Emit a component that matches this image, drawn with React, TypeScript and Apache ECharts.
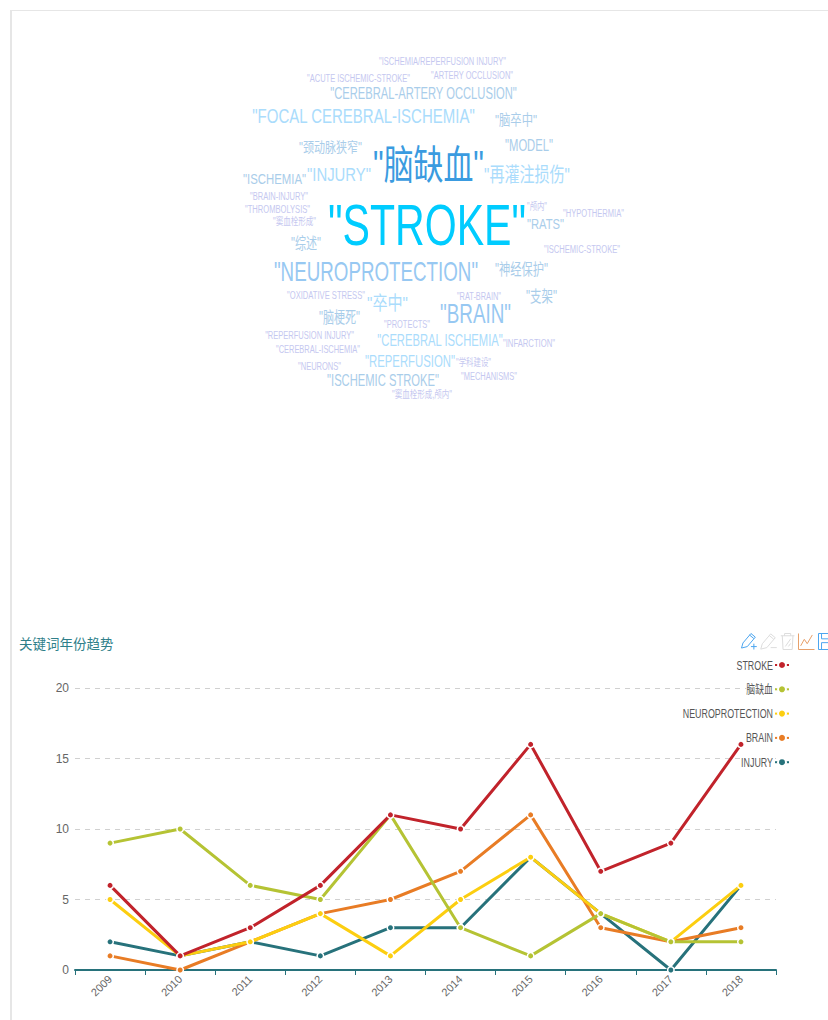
import React, { useEffect, useRef } from "react";
import * as echarts from "echarts";

const years = ["2009", "2010", "2011", "2012", "2013", "2014", "2015", "2016", "2017", "2018"];
const strokeValues = [6, 1, 3, 6, 11, 10, 16, 7, 9, 16];
const naoQueXueValues = [9, 10, 6, 5, 11, 3, 1, 4, 2, 2];
const neuroValues = [5, 1, 2, 4, 1, 5, 8, 4, 2, 6];
const brainValues = [1, 0, 2, 4, 5, 7, 11, 3, 2, 3];
const injuryValues = [2, 1, 2, 1, 3, 3, 8, 4, 0, 6];
const seriesNames = ["STROKE", "脑缺血", "NEUROPROTECTION", "BRAIN", "INJURY"];
const seriesColors = ["#c1232b", "#b5c334", "#fcce10", "#e87c25", "#27727b"];
const yTicks = [0, 5, 10, 15, 20];

const wordTexts = [
  '"ISCHEMIA/REPERFUSION INJURY"', '"ACUTE ISCHEMIC-STROKE"', '"ARTERY OCCLUSION"', '"CEREBRAL-ARTERY OCCLUSION"',
  '"FOCAL CEREBRAL-ISCHEMIA"', '"脑卒中"', '"颈动脉狭窄"', '"MODEL"', '"脑缺血"', '"再灌注损伤"', '"ISCHEMIA"', '"INJURY"',
  '"BRAIN-INJURY"', '"THROMBOLYSIS"', '"窦血栓形成"', '"STROKE"', '"颅内"', '"RATS"', '"HYPOTHERMIA"', '"综述"',
  '"ISCHEMIC-STROKE"', '"NEUROPROTECTION"', '"神经保护"', '"OXIDATIVE STRESS"', '"卒中"', '"RAT-BRAIN"', '"支架"', '"BRAIN"',
  '"脑梗死"', '"PROTECTS"', '"REPERFUSION INJURY"', '"CEREBRAL ISCHEMIA"', '"INFARCTION"', '"CEREBRAL-ISCHEMIA"',
  '"REPERFUSION"', '"学科建设"', '"NEURONS"', '"MECHANISMS"', '"ISCHEMIC STROKE"', '"窦血栓形成,颅内"',
];
const wordWeights = [
  11, 11, 11, 16, 21, 15, 14, 16, 40, 20, 15, 19,
  11, 11, 10, 58, 10, 15, 11, 16,
  11, 27, 16, 11, 19, 11, 16, 27,
  16, 11, 11, 16, 11, 11,
  16, 10, 11, 11, 16, 10,
];
// word-cloud layout (page pixels: centre x, centre y, drawn width)
const wordCenterX = [
  442.5, 358.5, 472, 423.5, 363.5, 516, 330.5, 529, 428.5, 527, 274.5, 339,
  279, 277.5, 294.5, 427, 537, 545.5, 593.5, 306,
  582, 376, 521.5, 326, 387.5, 479, 541.5, 475.5,
  339.5, 407, 309.5, 440, 529, 318,
  410, 473.5, 319.5, 489, 383, 422,
];
const wordCenterY = [
  61, 78, 75, 93, 116, 120, 148, 145, 165, 175, 179, 175,
  196, 209, 222, 225, 207, 224, 213, 244,
  249, 272, 269, 295, 303, 296, 296, 314,
  318, 324, 335, 340, 343, 349,
  361, 363, 366, 376, 380, 395,
];
const wordWidths = [
  127, 103, 82, 187, 223, 42, 63, 48, 111, 86, 63, 64,
  58, 65, 43, 198, 20, 37, 61, 30,
  76, 204, 53, 78, 41, 44, 31, 71,
  41, 46, 89, 126, 52, 84,
  90, 35, 43, 56, 112, 60,
];
const wordTones = [
  0, 0, 0, 2, 3, 2, 2, 2, 5, 3, 2, 3,
  0, 0, 0, 6, 0, 2, 0, 2,
  0, 4, 2, 0, 3, 0, 2, 4,
  2, 0, 0, 3, 0, 0,
  3, 0, 0, 0, 2, 0,
];
const tonePalette = ["#c5c8f0", "#c5c8f0", "#a9cdea", "#aadcfc", "#97c8f2", "#3a9be0", "#00ccff"];

const WORD_FONT = '"Liberation Sans", "Noto Sans CJK SC", sans-serif';

const measureCtx = document.createElement("canvas").getContext("2d") as CanvasRenderingContext2D;
function squeeze(text: string, size: number, target: number) {
  measureCtx.font = `${size}px ${WORD_FONT}`;
  return target / measureCtx.measureText(text).width;
}

const penPlus = "path://M2 22 L4 15 L15 2 L21 7 L10 20 Z M13 4 L19 9 M15 20 H23 M19 16 V24";
const penMinus = "path://M2 22 L4 15 L15 2 L21 7 L10 20 Z M13 4 L19 9 M15 20 H23";
const trash = "path://M3 5 H21 M8 5 V2 H16 V5 M5 5 L6 23 H18 L19 5 M9 19 L16 9 M13 19 L16 15";
const lineIcon = "path://M2 1 V23 H24 M5 18 L10 9 L14 15 L21 3";
const floppy = "path://M2 2 H18 L23 7 V23 H2 Z M6 2 V9 H17 V2 M6 23 V14 H19 V23";

export default function App() {
  const ref = useRef<HTMLDivElement>(null);
  useEffect(() => {
    const chart = echarts.init(ref.current as HTMLDivElement, undefined, { renderer: "svg" });
    const valueSets = [strokeValues, naoQueXueValues, neuroValues, brainValues, injuryValues];
    const noop = () => {};
    const tool = (icon: string, color: string) => ({
      show: true, title: "", icon, onclick: noop,
      iconStyle: { color: "none", borderColor: color, borderWidth: 1 },
    });
    chart.setOption({
      animation: false,
      backgroundColor: "transparent",
      title: {
        text: "关键词年份趋势", left: 14, top: 633,
        textStyle: { color: "#2f7f8a", fontSize: 13.5, fontWeight: "normal", fontFamily: WORD_FONT },
      },
      toolbox: {
        left: 724, top: 616, itemSize: 16, itemGap: -1, showTitle: false,
        feature: {
          myMark: tool(penPlus, "#4da6f0"),
          myUndo: tool(penMinus, "#dddddd"),
          myClear: tool(trash, "#dddddd"),
          myLine: tool(lineIcon, "#e8a06a"),
          mySave: tool(floppy, "#4da6f0"),
        },
      },
      legend: {
        orient: "vertical", right: 205, top: 652, align: "right",
        itemWidth: 14, itemHeight: 10, itemGap: 8.3,
        data: seriesNames,
        formatter: () => " ",
        textStyle: { fontSize: 10, height: 16, lineHeight: 16 },
      },
      graphic: seriesNames.map((name, i) => ({
        type: "text", x: 773, y: 665 + i * 24.3, scaleX: 0.74, z: 5,
        style: {
          text: name, fill: "#555", font: `12px ${WORD_FONT}`,
          align: "right", verticalAlign: "middle", backgroundColor: "#fff",
        },
      })),
      grid: [
        { left: 75, top: 688, width: 701, height: 282 },
        { left: 0, top: 0, width: 860, height: 620 },
      ],
      xAxis: [
        {
          type: "category", data: years, gridIndex: 0, boundaryGap: true,
          axisLine: { lineStyle: { color: "#27727b", width: 2 } },
          axisTick: { show: true, length: 5, lineStyle: { color: "#27727b" } },
          axisLabel: { rotate: 45, color: "#666", fontSize: 11, fontFamily: WORD_FONT, margin: 7 },
          splitLine: { show: false },
        },
        { type: "value", gridIndex: 1, min: 0, max: 860, show: false },
      ],
      yAxis: [
        {
          type: "value", gridIndex: 0, min: yTicks[0], max: yTicks[4], interval: yTicks[1],
          axisLine: { show: false }, axisTick: { show: false },
          axisLabel: { color: "#666", fontSize: 12, fontFamily: WORD_FONT, margin: 6 },
          splitLine: { lineStyle: { color: "#d0d0d0", type: [5, 5] } },
        },
        { type: "value", gridIndex: 1, min: 0, max: 620, inverse: true, show: false },
      ],
      series: [
        ...seriesNames.map((name, i) => ({
          name, type: "line", xAxisIndex: 0, yAxisIndex: 0, data: valueSets[i], z: 10 - i,
          symbol: "circle", symbolSize: 6.5, showAllSymbol: true,
          lineStyle: { color: seriesColors[i], width: 3 },
          itemStyle: { color: seriesColors[i], borderColor: "#fff", borderWidth: 1.5 },
        })),
        {
          type: "custom", xAxisIndex: 1, yAxisIndex: 1, silent: true,
          encode: { x: 0, y: 1 },
          data: wordTexts.map((_, i) => [wordCenterX[i], wordCenterY[i], wordWeights[i], wordWidths[i], wordTones[i]]),
          renderItem: (params: any, api: any) => {
            const p = api.coord([api.value(0), api.value(1)]);
            const text = wordTexts[params.dataIndex];
            const size = api.value(2);
            return {
              type: "text", x: p[0], y: p[1],
              scaleX: squeeze(text, size, api.value(3)),
              style: {
                text, fill: tonePalette[api.value(4)],
                font: `${size}px ${WORD_FONT}`, align: "center", verticalAlign: "middle",
              },
            };
          },
        },
      ],
    });
    return () => chart.dispose();
  }, []);
  return (
    <div style={{ position: "fixed", left: 0, top: 0, width: 828, height: 1020, overflow: "hidden", background: "#fff" }}>
      <div style={{ position: "absolute", left: 10, top: 10, width: 830, height: 1020, borderLeft: "2px solid #e6e6e6", borderTop: "1px solid #e6e6e6" }} />
      <div ref={ref} style={{ position: "absolute", left: 0, top: 0, width: 1000, height: 1020 }} />
    </div>
  );
}
